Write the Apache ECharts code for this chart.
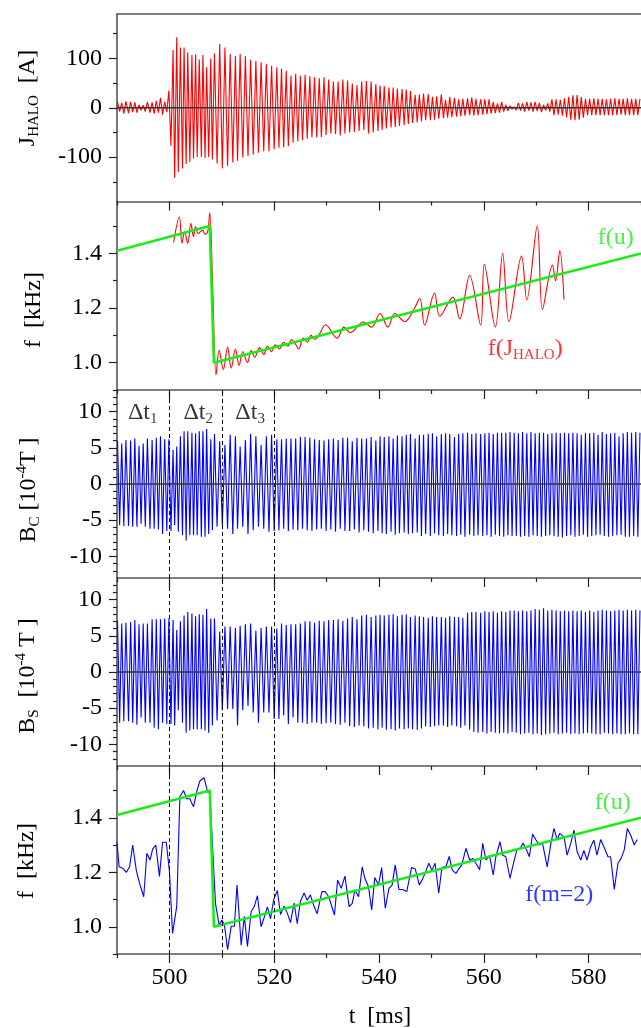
<!DOCTYPE html>
<html><head><meta charset="utf-8">
<script src="https://cdn.jsdelivr.net/npm/echarts@6/dist/echarts.min.js"></script>
<style>html,body{margin:0;padding:0;background:#fff}#c{width:641px;height:1028px}</style>
</head><body><div id="c"></div><script>
// ---------- DATA ----------
// times (ms) of successive extrema of the oscillating signals (alternating +/-)
const tPk = [
490.1,490.5,490.9,491.3,491.7,492.2,492.6,493.0,493.4,493.8,494.2,494.6,495.0,495.4,495.8,496.3,496.7,497.1,497.5,497.9,498.3,498.7,499.1,499.5,499.9,
500.3,500.7,501.0,501.4,501.7,502.1,502.5,502.8,503.2,503.5,503.9,504.3,504.6,505.0,505.3,505.7,506.1,506.4,506.8,507.1,507.5,507.9,508.2,508.6,
509.1,509.6,
510.1,510.6,511.1,511.6,512.1,512.6,513.0,513.5,514.0,514.5,515.0,515.5,516.0,516.5,517.0,517.5,518.0,518.5,519.0,519.5,
520.0,520.5,520.9,521.4,521.8,522.3,522.7,523.2,523.6,524.1,524.5,525.0,525.4,525.9,526.3,526.8,527.2,527.7,528.1,528.6,529.0,529.5,529.9,530.4,530.8,531.3,531.7,532.2,532.6,533.1,533.5,534.0,534.4,534.9,535.3,535.8,536.2,536.7,537.1,537.6,538.0,538.5,538.9,539.4,539.8,
540.2,540.6,541.0,541.4,541.9,542.3,542.7,543.1,543.5,543.9,544.4,544.8,545.2,545.6,546.0,546.4,546.9,547.3,547.7,548.1,548.5,548.9,549.4,549.8,550.2,550.6,551.0,551.4,551.9,552.3,552.7,553.1,553.5,553.9,554.4,554.8,555.2,555.6,556.0,556.4,556.9,557.3,557.7,558.1,558.5,558.9,559.4,559.8,
560.2,560.6,561.0,561.4,561.8,562.2,562.6,563.0,563.4,563.8,564.2,564.6,565.0,565.4,565.8,566.2,566.6,567.0,567.4,567.8,568.2,568.6,569.0,569.4,569.8,570.2,570.6,571.0,571.4,571.8,572.2,572.6,573.0,573.4,573.8,574.2,574.6,575.0,575.4,575.8,576.2,576.6,577.0,577.4,577.8,578.2,578.6,579.0,579.4,579.8,580.2,580.6,581.0,581.4,581.8,582.2,582.6,583.0,583.4,583.8,584.2,584.6,585.0,585.4,585.8,586.2,586.6,587.0,587.4,587.8,588.2,588.6,589.0,589.4,589.8
];
// J_HALO [A] at those extrema
const jHalo = [
12,-8,10,-12,13,-11,12,-9,11,-10,6,-5,5,-8,12,-10,11,-12,14,-10,20,-14,12,-9,35,
-77,117,-142,143,-130,122,-123,122,-114,112,-110,107,-103,108,-100,98,-100,107,-102,82,-100,100,-105,110,
-113,129,
-123,122,-118,109,-111,105,-108,109,-101,105,-98,97,-95,95,-91,92,-88,89,-88,85,
-84,82,-81,79,-80,75,-78,65,-71,69,-68,65,-66,67,-63,64,-60,62,-60,60,-59,62,-55,57,-52,53,-53,53,-56,57,-52,55,-50,49,-49,46,-47,53,-45,54,-52,53,-50,48,-47,
45,-45,44,-42,41,-40,41,-39,39,-37,38,-35,37,-33,34,-31,26,-30,27,-28,29,-25,28,-25,22,-24,23,-22,27,-21,16,-20,22,-19,20,-18,17,-17,18,-16,19,-15,21,-16,18,-15,17,-14,
17,-13,17,-12,12,-11,9,-10,12,-8,6,-6,4,-3,2,-5,10,-6,9,-8,12,-6,11,-8,12,-7,10,-9,6,-5,9,-8,17,-15,17,-14,16,-16,19,-19,22,-24,25,-25,26,-24,22,-20,18,-15,18,-15,19,-15,18,-15,18,-15,17,-15,18,-15,19,-15,18,-14,18,-15,19,-15,18,-15,18,-15,18
];
// B_C [1e-4 T]
const bC = [
6.0,-5.7,5.6,-5.8,6.1,-5.8,6.0,-5.9,6.3,-5.9,5.3,-5.5,5.6,-5.9,6.3,-6.2,6.1,-6.2,6.4,-6.3,6.6,-6.9,6.2,-6.5,6.2,
-6.5,4.7,-5.7,5.2,-6.6,6.6,-7.1,7.3,-7.8,7.3,-7.1,7.1,-7.1,7.0,-7.1,7.3,-7.3,7.3,-7.3,7.6,-6.9,6.2,-6.4,6.9,
-5.9,5.9,
-5.7,5.4,-6.2,6.8,-6.9,6.6,-6.2,5.2,-5.9,6.1,-6.9,6.9,-6.4,6.6,-5.9,5.4,-6.2,6.6,-6.6,6.8,
-6.5,6.2,-6.4,6.2,-6.2,6.3,-6.5,6.3,-6.3,6.3,-6.4,6.5,-6.2,6.5,-6.4,6.4,-6.5,6.2,-6.3,6.1,-6.2,6.0,-6.5,6.2,-6.3,6.3,-6.6,6.1,-6.2,6.4,-6.5,6.4,-6.5,5.9,-6.3,6.4,-6.7,6.3,-6.4,6.3,-6.6,6.5,-6.8,6.0,-6.5,
6.6,-6.8,6.5,-6.9,6.6,-6.6,6.3,-7.0,6.7,-6.8,6.6,-6.7,6.8,-6.9,6.9,-6.8,6.3,-6.7,6.8,-7.2,6.8,-6.9,6.9,-7.2,7.0,-6.8,6.6,-7.1,6.9,-7.2,7.0,-6.9,6.9,-7.1,6.5,-7.2,6.9,-7.0,7.0,-7.3,7.1,-7.0,6.9,-7.2,7.0,-7.1,6.9,-7.2,
7.0,-7.1,7.1,-7.3,6.9,-7.0,7.1,-7.2,7.1,-7.3,7.1,-7.1,7.2,-7.2,7.1,-7.2,7.0,-7.3,7.2,-7.2,7.0,-7.3,7.2,-7.1,7.0,-7.2,7.1,-7.3,7.1,-7.2,6.9,-7.1,7.0,-7.2,7.1,-7.3,7.0,-7.4,7.1,-7.2,7.0,-7.1,7.1,-7.3,7.0,-7.2,6.8,-7.0,7.1,-7.3,7.0,-7.2,7.1,-7.1,6.8,-7.0,7.2,-7.2,6.9,-7.3,7.0,-7.2,7.1,-7.1,6.6,-7.0,7.0,-7.3,7.2,-7.3,7.1,-7.2,7.2,-7.3,7.1
];
// B_S [1e-4 T]
const bS = [
7.1,-7.0,6.7,-6.8,6.8,-6.8,6.9,-7.0,7.2,-7.3,6.6,-6.3,6.7,-7.0,6.7,-7.0,7.3,-7.7,7.3,-7.9,7.3,-7.0,7.4,-7.2,7.4,
-7.2,7.2,-7.4,5.8,-5.3,7.0,-7.0,7.8,-8.4,8.3,-8.1,8.1,-7.9,7.7,-7.9,8.0,-7.9,7.9,-8.1,8.7,-8.4,7.4,-7.4,7.4,
-6.7,5.6,
-5.3,6.3,-5.1,6.3,-5.1,6.1,-7.4,6.4,-5.3,6.6,-4.7,6.7,-5.6,5.7,-7.0,6.1,-5.6,6.3,-5.6,6.3,
-6.5,6.0,-6.5,6.7,-6.0,6.5,-7.2,6.6,-6.3,6.6,-7.0,6.7,-7.0,7.0,-7.2,7.0,-7.0,6.8,-7.0,7.1,-7.2,7.0,-7.1,7.2,-7.0,7.2,-7.2,7.3,-7.3,7.1,-7.0,7.4,-7.5,7.6,-7.6,7.3,-7.4,7.8,-7.5,7.9,-7.8,7.6,-7.7,7.8,-7.9,
7.9,-7.7,7.8,-8.0,7.9,-7.9,8.0,-8.1,7.7,-7.8,7.9,-7.9,8.0,-7.8,7.6,-7.9,7.8,-8.0,7.7,-7.8,7.6,-7.5,7.5,-7.6,7.7,-7.5,7.6,-7.4,7.6,-7.4,7.5,-7.6,7.7,-7.4,7.6,-7.5,7.6,-7.7,7.5,-7.4,8.2,-8.0,8.3,-8.3,8.3,-8.4,8.2,-8.3,
8.4,-8.5,8.3,-8.3,8.4,-8.4,8.2,-8.5,8.4,-8.4,8.3,-8.5,8.5,-8.3,8.5,-8.4,8.4,-8.6,8.5,-8.5,8.4,-8.4,8.5,-8.6,8.7,-8.5,8.6,-8.7,8.8,-8.6,8.5,-8.5,8.6,-8.4,8.5,-8.6,8.4,-8.5,8.5,-8.4,8.4,-8.6,8.5,-8.5,8.4,-8.6,8.5,-8.5,8.3,-8.4,8.5,-8.5,8.3,-8.6,8.5,-8.6,8.6,-8.4,8.5,-8.5,8.4,-8.6,8.5,-8.5,8.6,-8.6,8.5,-8.6,8.6,-8.5,8.5,-8.6,8.6,-8.6,8.5
];
// f(u) model line [kHz]
const fuT = [490, 507.7, 508.5, 590];
const fuV = [1.41, 1.50, 1.00, 1.40];
// f(J_HALO) [kHz]
const fjT = [500.8,501.9,502.4,502.9,503.5,504.1,504.6,505.0,505.5,506.3,506.8,507.3,507.7,508.3,508.9,
509.5,510.3,511.1,511.8,512.6,513.3,514.0,514.9,515.6,516.3,517.2,518.0,518.7,519.5,520.2,521.0,521.8,522.6,523.3,524.0,524.7,525.5,526.3,527.0,527.8,528.5,
529.8,532.0,533.3,534.5,537.0,538.6,540.2,541.7,543.0,544.9,546.8,547.8,548.7,550.6,551.6,554.1,555.4,557.3,559.4,560.1,562.2,563.6,564.8,567.2,568.2,570.2,571.2,573.1,573.7,574.5,575.3];
const fjV = [1.44,1.534,1.437,1.479,1.436,1.51,1.461,1.497,1.473,1.485,1.470,1.479,1.55,1.25,0.955,
1.045,0.975,1.057,0.98,1.05,0.99,1.04,1.00,1.045,1.02,1.055,1.03,1.06,1.04,1.065,1.05,1.075,1.06,1.085,1.07,1.05,1.09,1.075,1.10,1.085,1.10,
1.139,1.09,1.13,1.11,1.149,1.13,1.18,1.13,1.18,1.15,1.20,1.236,1.138,1.255,1.17,1.24,1.16,1.32,1.138,1.36,1.13,1.40,1.15,1.39,1.23,1.50,1.195,1.357,1.30,1.41,1.23];
// f(m=2) [kHz]
const fmT = [490.0,490.4,491.1,491.8,492.4,493.0,493.7,494.3,495.1,495.7,496.3,496.8,497.4,498.1,498.7,499.4,500.0,500.6,501.4,502.0,502.7,503.3,503.9,504.6,505.2,505.8,506.6,507.3,507.7,508.2,508.8,509.5,510.0,510.5,511.1,511.8,512.4,512.9,513.7,514.3,514.9,515.6,516.2,516.8,517.5,518.1,518.7,519.3,519.9,520.6,521.2,521.9,522.5,523.1,523.8,524.4,525.0,525.7,526.3,526.9,527.6,528.2,
529.1,529.7,530.4,531.5,532.1,532.8,533.5,534.3,534.9,535.4,536.1,536.8,537.3,538.0,538.6,539.2,539.9,540.5,541.2,541.9,542.5,543.1,543.8,544.5,545.3,546.2,546.9,547.7,548.3,549.0,549.5,550.1,550.7,551.4,552.0,552.8,553.4,554.0,554.7,
555.1,555.8,556.6,557.3,557.9,558.5,559.2,559.8,560.4,561.1,561.8,562.3,563.1,563.6,564.2,565.0,565.5,566.3,567.0,567.5,568.2,568.7,569.3,569.9,570.6,571.2,572.1,572.8,573.4,574.0,574.5,575.3,575.9,576.6,577.2,577.8,578.5,579.1,579.7,580.4,581.0,581.6,582.3,583.0,583.7,584.2,584.9,585.6,586.2,586.8,587.4,588.1,588.7,589.3];
const fmV = [1.31,1.22,1.215,1.20,1.22,1.30,1.205,1.16,1.11,1.27,1.245,1.285,1.30,1.185,1.31,1.31,1.205,0.976,1.075,1.478,1.50,1.47,1.47,1.44,1.495,1.535,1.547,1.495,1.495,1.306,1.085,1.006,1.025,1.008,0.916,1.002,1.002,1.153,0.932,1.038,0.928,1.055,1.075,1.114,1.00,1.035,1.073,1.03,1.10,1.133,1.045,1.075,1.05,1.015,1.087,1.011,1.093,1.124,1.097,1.117,1.075,1.048,
1.129,1.129,1.11,1.043,1.171,1.141,1.186,1.074,1.086,1.135,1.11,1.22,1.178,1.147,1.062,1.181,1.153,1.217,1.068,1.141,1.153,1.227,1.137,1.137,1.129,1.217,1.213,1.153,1.174,1.207,1.233,1.207,1.233,1.123,1.217,1.222,1.258,1.207,1.196,
1.209,1.227,1.288,1.245,1.251,1.233,1.209,1.306,1.245,1.260,1.19,1.257,1.312,1.263,1.257,1.178,1.22,1.282,1.29,1.307,1.28,1.257,1.34,1.32,1.30,1.307,1.22,1.306,1.361,1.318,1.343,1.33,1.263,1.306,1.355,1.276,1.245,1.28,1.245,1.294,1.318,1.263,1.32,1.29,1.257,1.257,1.137,1.233,1.251,1.282,1.361,1.333,1.30,1.32];
const zeroT = [490, 590];
const zeroV = [0, 0];
const markTimes = [500, 510, 520];
// tick values
const xMajor = [500, 520, 540, 560, 580];
const xMinor = [490, 510, 530, 550, 570, 590];
const jMajor = [-100, 0, 100];
const jMinor = [-150, -50, 50, 150];
const fMajor = [1.0, 1.2, 1.4];
const fMinor = [0.9, 1.1, 1.3, 1.5];
const bMajor = [-10, -5, 0, 5, 10];
const bMinor = [-12,-11,-9,-8,-7,-6,-4,-3,-2,-1,1,2,3,4,6,7,8,9,11,12];

// ---------- CHART ----------
const FONT = 'Liberation Serif';
const FS = 24, FSS = 15;
const RED = '#ff0000', BLUE = '#0000ff', GREEN = '#1aec1a', AX = '#555';
const zip = (xs, ys) => xs.map((x, i) => [x, ys[i]]);

const grids = [[14,187.5],[201.5,188.5],[390,188],[578,188],[766,188]]
  .map(([top, height]) => ({left: 117, width: 527, top, height}));
const yRanges = [[-190,190],[0.9,1.59],[-13,13],[-13,13],[0.9,1.59]];
const yTicks = [[jMajor,jMinor],[fMajor,fMinor],[bMajor,bMinor],[bMajor,bMinor],[fMajor,fMinor]];

const xAxis = [], yAxis = [];
grids.forEach((g, i) => {
  xAxis.push({gridIndex:i, type:'value', min:490, max:590, position:'bottom',
    axisLine:{show:true, onZero:false, lineStyle:{color:AX, width:1.6}},
    axisTick:{show:true, inside:false, length:9, customValues:xMajor, lineStyle:{color:'#222', width:1.2}},
    axisLabel:{show:i===4, customValues:xMajor, margin:12, fontSize:FS, fontFamily:FONT, color:'#000'},
    splitLine:{show:false}});
  xAxis.push({gridIndex:i, type:'value', min:490, max:590, position:'bottom',
    axisLine:{show:false, onZero:false},
    axisTick:{show:true, inside:false, length:4, customValues:xMinor, lineStyle:{color:'#222', width:1.2}},
    axisLabel:{show:false}, splitLine:{show:false}});
  const [mn, mx] = yRanges[i];
  const dec = (i === 1 || i === 4);
  yAxis.push({gridIndex:i, type:'value', min:mn, max:mx, position:'left',
    axisLine:{show:true, onZero:false, lineStyle:{color:AX, width:1.6}},
    axisTick:{show:true, inside:false, length:8, customValues:yTicks[i][0], lineStyle:{color:'#222', width:1.2}},
    axisLabel:{show:true, customValues:yTicks[i][0], margin:15, fontSize:FS, fontFamily:FONT, color:'#000',
      formatter: v => dec ? Number(v).toFixed(1) : String(Math.round(v))},
    splitLine:{show:false}});
  yAxis.push({gridIndex:i, type:'value', min:mn, max:mx, position:'left',
    axisLine:{show:false, onZero:false},
    axisTick:{show:true, inside:false, length:4, customValues:yTicks[i][1], lineStyle:{color:'#222', width:1.2}},
    axisLabel:{show:false}, splitLine:{show:false}});
});
// top frame line of first panel
xAxis.push({gridIndex:0, type:'value', min:490, max:590, position:'top',
  axisLine:{show:true, onZero:false, lineStyle:{color:AX, width:1.6}},
  axisTick:{show:false}, axisLabel:{show:false}, splitLine:{show:false}});

const line = (i, data, color, width, z, extra) => Object.assign({
  type:'line', xAxisIndex:2*i, yAxisIndex:2*i, data, showSymbol:false, symbol:'none',
  lineStyle:{color, width}, itemStyle:{color}, z, silent:true, animation:false, clip:true
}, extra || {});

const dashMarks = {
  markLine:{silent:true, symbol:'none', animation:false, label:{show:false},
    lineStyle:{color:'#000', width:1, type:[4,3]},
    data: markTimes.map(t => ({xAxis:t}))}
};

const richBase = (color) => ({
  a:{fontFamily:FONT, fontSize:FS, color, lineHeight:28},
  s:{fontFamily:FONT, fontSize:FSS, color, verticalAlign:'bottom', lineHeight:16},
  p:{fontFamily:FONT, fontSize:FSS, color, verticalAlign:'top', lineHeight:16}
});
const textAt = (i, pt, text, color) => ({
  type:'scatter', xAxisIndex:2*i, yAxisIndex:2*i, data:[pt], symbolSize:0, silent:true, z:20, animation:false,
  label:{show:true, position:[0,0], align:'center', verticalAlign:'middle', formatter:text, rich:richBase(color)}
});

const series = [
  line(0, zip(tPk, jHalo), RED, 1.1, 2),
  line(0, zip(zeroT, zeroV), '#333', 1.3, 3),
  line(1, zip(fjT, fjV), RED, 1.1, 2, {smooth:0.35}),
  line(1, zip(fuT, fuV), GREEN, 2.6, 3),
  line(2, zip(tPk, bC), BLUE, 1.1, 2, dashMarks),
  line(2, zip(zeroT, zeroV), '#333', 1.3, 3),
  line(3, zip(tPk, bS), BLUE, 1.1, 2, dashMarks),
  line(3, zip(zeroT, zeroV), '#333', 1.3, 3),
  line(4, zip(fmT, fmV), BLUE, 1.1, 2, dashMarks),
  line(4, zip(fuT, fuV), GREEN, 2.6, 3),
  textAt(1, [585.2, 1.456], '{a|f(u)}', GREEN),
  textAt(1, [567.9, 1.052], '{a|f(J}{s|HALO}{a|)}', RED),
  textAt(4, [584.6, 1.454], '{a|f(u)}', GREEN),
  textAt(4, [574.4, 1.116], '{a|f(m=2)}', BLUE),
  textAt(2, [494.9, 9.9], '{a|Δt}{s|1}', '#000'),
  textAt(2, [505.5, 9.9], '{a|Δt}{s|2}', '#000'),
  textAt(2, [515.4, 9.9], '{a|Δt}{s|3}', '#000')
];

const rotTitle = (x, y, text) => ({
  type:'text', x, y, rotation:Math.PI/2, silent:true,
  style:{text, align:'center', verticalAlign:'middle', fill:'#000', font:FS + 'px ' + FONT, rich:richBase('#000')}
});

const chart = echarts.init(document.getElementById('c'), null, {renderer:'canvas'});
chart.setOption({
  animation:false,
  backgroundColor:'#fff',
  grid: grids,
  xAxis, yAxis, series,
  graphic: [
    rotTitle(28, 98, '{a|J}{s|HALO}{a|  [A]}'),
    rotTitle(34, 310, '{a|f  [kHz]}'),
    rotTitle(29, 490, '{a|B}{s|C}{a| [10}{p|-4}{a|T ]}'),
    rotTitle(28, 676, '{a|B}{s|S}{a|  [10}{p|-4}{a| T ]}'),
    rotTitle(27, 861, '{a|f  [kHz]}'),
    {type:'text', x:380, y:1017, silent:true,
     style:{text:'t  [ms]', align:'center', verticalAlign:'middle', fill:'#000', font:FS + 'px ' + FONT}}
  ]
});
</script></body></html>
